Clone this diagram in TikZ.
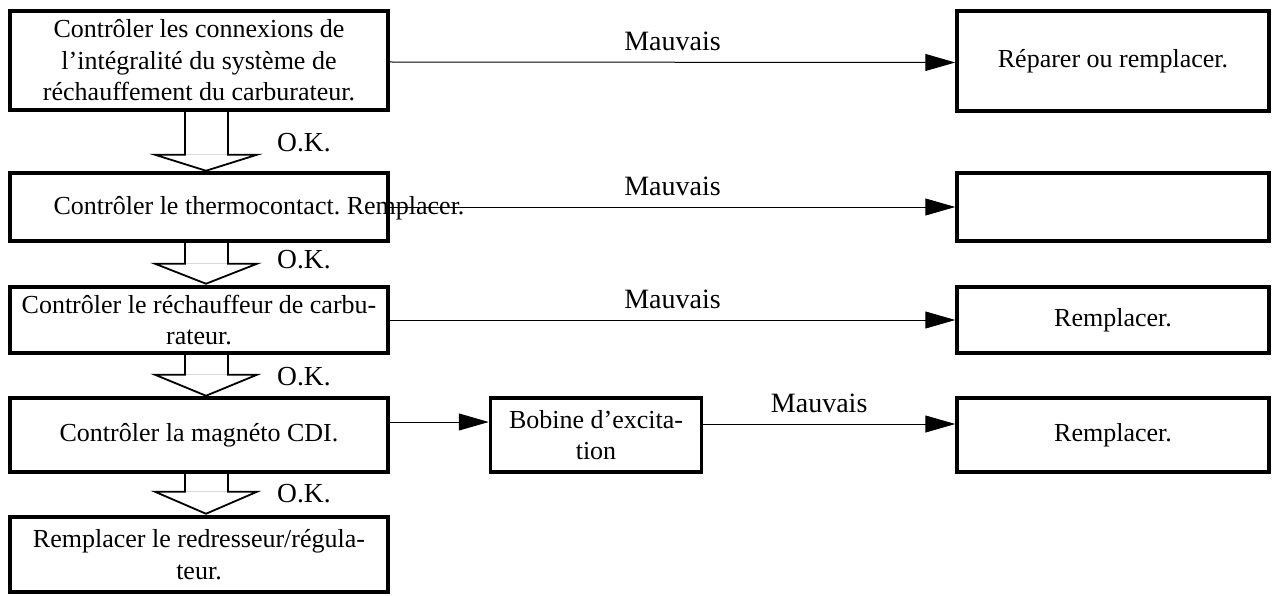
\documentclass[tikz,border=0pt]{standalone}
\usepackage{fontspec}
\setmainfont{Liberation Serif}
\usetikzlibrary{arrows.meta}
\frenchspacing
\newcommand\okarrow[3]{%
  \draw[black!15, line width=0.8pt] ([xshift=-14pt,yshift=-#2 pt]#1.south) -- ++(43,0);
  \draw[hollow] ([xshift=-14pt]#1.south) -- ++(0,#2) -- ++(-30,0) -- ++(51,#3) -- ++(51,-#3) -- ++(-29,0) -- ++(0,-#2);}
\begin{document}
\begin{tikzpicture}[x=1pt,y=-1pt,
  box/.style={draw, line width=3.5pt, align=center, inner sep=0pt, font=\fontsize{26}{31.5}\selectfont},
  txt/.style={font=\fontsize{26}{31.5}\selectfont, inner sep=0pt},
  oklab/.style={font=\fontsize{27.5}{31}\selectfont, inner sep=0pt, anchor=west},
  mlab/.style={font=\fontsize{28}{31}\selectfont, inner sep=0pt, above=11pt},
  conn/.style={line width=1pt, -{Triangle[length=30pt,width=17pt]}},
  hollow/.style={line width=1.8pt, line join=miter}]
\useasboundingbox (0,0) rectangle (1276,596);
% left column
\node[box, minimum width=378pt, minimum height=99pt] (b1) at (199,60.5)
  {Contrôler les connexions de\\ l’intégralité du système de\\ réchauffement du carburateur.};
\node[box, minimum width=378pt, minimum height=68pt] (b2) at (199,207) {};
\node[txt] (t2) at (259,208) {Contrôler le thermocontact. Remplacer.};
\node[box, minimum width=378pt, minimum height=66pt] (b3) at (199,320)
  {Contrôler le réchauffeur de carbu-\\ rateur.};
\node[box, minimum width=378pt, minimum height=74pt] (b4) at (199,435)
  {Contrôler la magnéto CDI.};
\node[box, minimum width=378pt, minimum height=75pt] (b5) at (199,554.5)
  {Remplacer le redresseur/régula-\\ teur.};
% right column
\node[box, minimum width=312pt, minimum height=100pt] (r1) at (1113,61) {Réparer ou remplacer.};
\node[box, minimum width=312pt, minimum height=68pt] (r2) at (1113,207) {};
\node[box, minimum width=312pt, minimum height=66pt] (r3) at (1113,320) {Remplacer.};
\node[box, minimum width=312pt, minimum height=74pt] (r4) at (1113,435) {Remplacer.};
\node[box, minimum width=211pt, minimum height=74pt] (bob) at (596,435) {Bobine d’excita-\\ tion};
% OK arrows
\okarrow{b1}{43}{16}
\okarrow{b2}{21}{20}
\okarrow{b3}{20}{21}
\okarrow{b4}{18}{22}
\node[oklab] (ok1) at (277,143) {O.K.};
\node[oklab] (ok2) at (277,260) {O.K.};
\node[oklab] (ok3) at (277,377) {O.K.};
\node[oklab] (ok4) at (277,494) {O.K.};
% Mauvais arrows
\draw[conn] ([yshift=-1.5pt]b1.east) -- node[mlab] (m1) {Mauvais} ([yshift=-1.5pt]r1.west);
\draw[conn] (b2.east) -- node[mlab] (m2) {Mauvais} (r2.west);
\draw[conn] (b3.east) -- node[mlab] (m3) {Mauvais} (r3.west);
\draw[conn] ([yshift=13pt]b4.east) -- ([yshift=13pt]bob.west);
\draw[conn] ([yshift=11pt]bob.east) -- node[mlab, pos=0.46] (m4) {Mauvais} ([yshift=11pt]r4.west);
\end{tikzpicture}
\end{document}
